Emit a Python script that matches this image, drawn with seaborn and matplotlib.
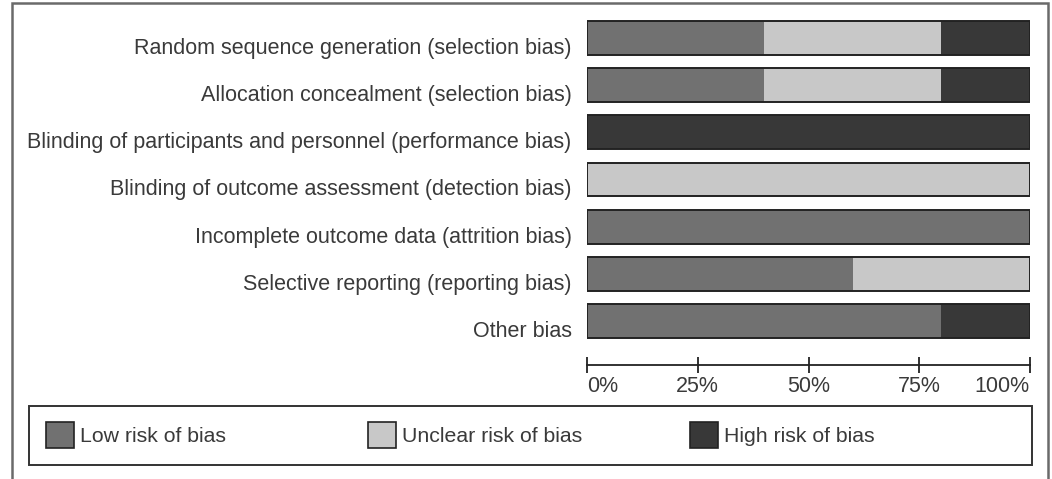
import pandas as pd
import matplotlib.pyplot as plt
import matplotlib.transforms as mtransforms
import seaborn as sns
from matplotlib.patches import Rectangle, Patch

# Risk of bias domains and percentage of studies per judgement
domains = [
    'Random sequence generation (selection bias)',
    'Allocation concealment (selection bias)',
    'Blinding of participants and personnel (performance bias)',
    'Blinding of outcome assessment (detection bias)',
    'Incomplete outcome data (attrition bias)',
    'Selective reporting (reporting bias)',
    'Other bias',
]
low_risk = [40, 40, 0, 0, 100, 60, 80]
unclear_risk = [40, 40, 0, 100, 0, 40, 0]
high_risk = [20, 20, 100, 0, 0, 0, 20]

categories = ['Low risk of bias', 'Unclear risk of bias', 'High risk of bias']
colors = ['#717171', '#c8c8c8', '#383838']
tick_values = [0, 25, 50, 75, 100]
tick_labels = ['0%', '25%', '50%', '75%', '100%']

df = pd.DataFrame({'domain': domains, 'low': low_risk,
                   'unclear': unclear_risk, 'high': high_risk})
# cumulative sums, drawn back to front to get stacked bars
df['c_low'] = df['low']
df['c_unclear'] = df['low'] + df['unclear']
df['c_high'] = df['c_unclear'] + df['high']

sns.set_style('white')
plt.rcParams['font.family'] = ['Liberation Sans', 'DejaVu Sans']
text_color = '#3a3a3a'

fig = plt.figure(figsize=(10.52, 4.79), dpi=100)
ax = fig.add_axes([587 / 1052, 1 - 344.5 / 479, 443 / 1052, 330 / 479])

bar_w = 0.72
for col, color in zip(['c_high', 'c_unclear', 'c_low'], colors[::-1]):
    sns.barplot(data=df, x=col, y='domain', color=color, width=bar_w,
                linewidth=0, saturation=1, ax=ax)
sns.barplot(data=df, x='c_high', y='domain', fill=False, width=bar_w,
            edgecolor='#222222', linewidth=1.4, ax=ax)

ax.set_xlim(0, 100)
ax.set_xlabel('')
ax.set_ylabel('')
for side in ['top', 'right', 'left']:
    ax.spines[side].set_visible(False)
ax.spines['bottom'].set_position(('outward', 14.4))
ax.spines['bottom'].set_color('#222222')
ax.spines['bottom'].set_linewidth(1.3)

ax.set_xticks(tick_values)
ax.set_xticklabels(tick_labels, fontsize=15.5, color=text_color)
ax.tick_params(axis='x', direction='inout', length=11, width=1.3,
               color='#222222', pad=3, bottom=True)
labels = ax.get_xticklabels()
labels[0].set_horizontalalignment('left')
labels[-1].set_horizontalalignment('right')

# y labels sit a little below the bar centres in the original
shift = mtransforms.ScaledTranslation(0, -0.08, fig.dpi_scale_trans)
ax.tick_params(axis='y', length=0, pad=11)
for lab in ax.get_yticklabels():
    lab.set_fontsize(15.5)
    lab.set_color(text_color)
    lab.set_transform(lab.get_transform() + shift)

# legend along the bottom: one entry per slot, inside a common box
legend_x = [46, 368, 690]
for name, color, x in zip(categories, colors, legend_x):
    h = Patch(facecolor=color, edgecolor='#222222', linewidth=1.2)
    fig.legend([h], [name], loc='center left',
               bbox_to_anchor=(x / 1052, 1 - 435 / 479),
               frameon=False, borderpad=0, borderaxespad=0,
               handlelength=1.32, handleheight=1.5, handletextpad=0.28,
               fontsize=15.3, labelcolor=text_color)
fig.add_artist(Rectangle((29 / 1052, 1 - 465 / 479), 1003 / 1052, 59 / 479,
                         transform=fig.transFigure, fill=False,
                         edgecolor='#333333', linewidth=1.4))

# outer frame around the figure (open at the bottom)
fig.add_artist(Rectangle((12 / 1052, -0.05), 1036 / 1052, 1.05 - 3 / 479,
                         transform=fig.transFigure, fill=False,
                         edgecolor='#6a6a6a', linewidth=1.8, clip_on=False))

fig.savefig('out.png', dpi=100)
